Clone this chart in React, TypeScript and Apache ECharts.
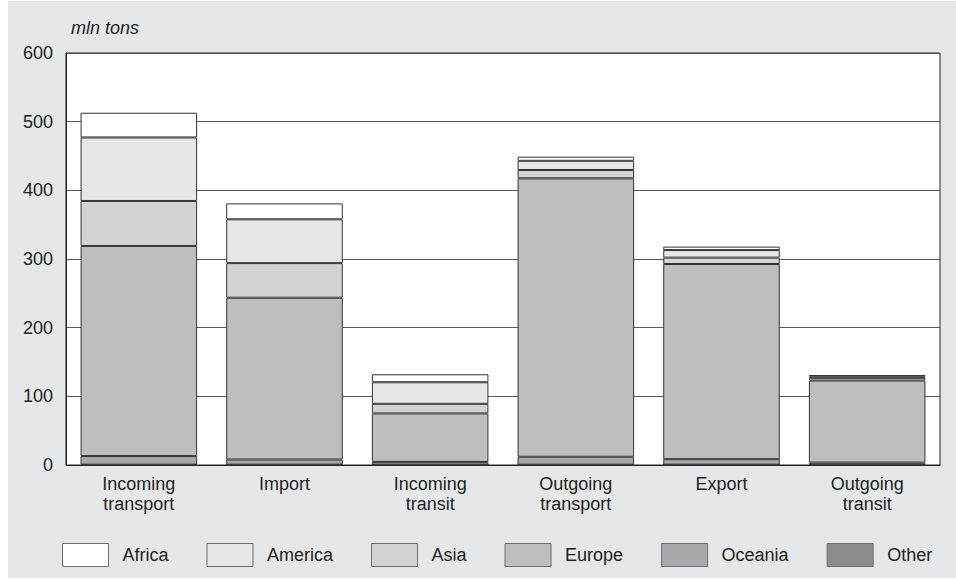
import React, { useEffect, useRef } from "react";
import * as echarts from "echarts";

const categories = [
  "Incoming\ntransport",
  "Import",
  "Incoming\ntransit",
  "Outgoing\ntransport",
  "Export",
  "Outgoing\ntransit",
];

// segment sizes (mln tons), stacked bottom to top: Other, Oceania, Europe, Asia, America, Africa
const other = [0.5, 0.5, 0.5, 0.5, 0.5, 0.5];
const oceania = [12.5, 7.5, 4, 11.5, 8, 3];
const europe = [306, 235.6, 70.6, 405.5, 284.2, 119.5];
const asia = [65.5, 50.4, 14, 12.1, 9.3, 4];
const america = [92.5, 63.8, 31.4, 13.4, 11, 2];
const africa = [36, 23.2, 11.6, 6, 5, 2];

const yTicks = { min: 0, max: 600, interval: 100 };
const yName = "mln tons";

const seriesDefs = [
  { name: "Other", data: other, color: "#8a8c8e" },
  { name: "Oceania", data: oceania, color: "#a7a9ac" },
  { name: "Europe", data: europe, color: "#bcbec0" },
  { name: "Asia", data: asia, color: "#d1d3d4" },
  { name: "America", data: america, color: "#e6e7e8" },
  { name: "Africa", data: africa, color: "#ffffff" },
];
const legendOrder = ["Africa", "America", "Asia", "Europe", "Oceania", "Other"];

const FONT = "'Liberation Sans', Arial, sans-serif";
const TXT = "#231f20";

export default function App() {
  const ref = useRef<HTMLDivElement>(null);
  useEffect(() => {
    if (!ref.current) return;
    const chart = echarts.init(ref.current, null, { renderer: "svg" });
    chart.setOption({
      animation: false,
      backgroundColor: "#e6e7e8",
      textStyle: { fontFamily: FONT },
      title: {
        text: yName,
        left: 58,
        top: 13,
        textStyle: { fontFamily: FONT, fontSize: 18, fontStyle: "italic", fontWeight: "normal", color: TXT },
      },
      grid: {
        left: 58,
        right: 16,
        top: 52,
        bottom: 113,
        show: true,
        backgroundColor: "#ffffff",
        borderColor: "#231f20",
        borderWidth: 1,
      },
      legend: {
        data: legendOrder,
        left: 49,
        bottom: 6,
        itemWidth: 46,
        itemHeight: 23,
        itemGap: 38,
        icon: "rect",
        textStyle: { fontFamily: FONT, fontSize: 18, color: TXT, padding: [0, 0, 0, 9] },
        itemStyle: { borderColor: "#6d6e71", borderWidth: 1 },
      },
      xAxis: {
        type: "category",
        data: categories,
        axisLine: { lineStyle: { color: "#231f20", width: 1 } },
        axisTick: { show: false },
        axisLabel: { fontFamily: FONT, fontSize: 18, color: TXT, lineHeight: 20, margin: 9 },
      },
      yAxis: {
        type: "value",
        min: yTicks.min,
        max: yTicks.max,
        interval: yTicks.interval,
        axisLine: { show: true, lineStyle: { color: "#231f20", width: 1 } },
        axisTick: { show: false },
        axisLabel: { fontFamily: FONT, fontSize: 18, color: TXT, margin: 13 },
        splitLine: { show: true, lineStyle: { color: "#58595b", width: 1 } },
      },
      series: seriesDefs.map((s) => ({
        name: s.name,
        type: "bar",
        stack: "total",
        data: s.data,
        barWidth: "80%",
        itemStyle: { color: s.color, borderColor: "#333333", borderWidth: 1 },
      })),
    });
    return () => chart.dispose();
  }, []);
  return (
    <div
      ref={ref}
      style={{ position: "absolute", left: 8, top: 1, width: 948, height: 577 }}
    />
  );
}
